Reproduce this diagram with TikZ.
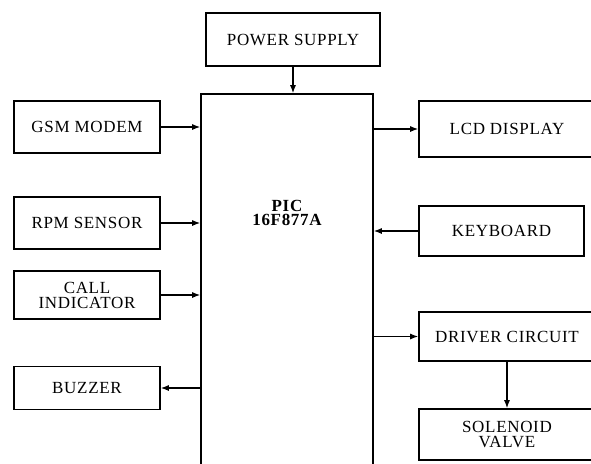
\documentclass[tikz,border=0pt]{standalone}
\usepackage{fontspec}
\setmainfont{Liberation Serif}[LetterSpace=4]
\usepackage{tikz}
\usetikzlibrary{arrows.meta, positioning}

\begin{document}
\begin{tikzpicture}[
    x=0.5pt, y=-0.5pt,
    box/.style={rectangle, draw=black, line width=0.8pt, fill=white,
                align=center, inner sep=0pt,
                font=\fontsize{8.5}{7.5}\selectfont},
    arrow/.style={-{Latex[length=4pt,width=3pt]}, line width=0.6pt}
]
\fill[white] (0,0) rectangle (591,463);
\clip (0,0) rectangle (591,463);

\node[box, minimum width=87pt, minimum height=26.5pt] (power) at (293,39.5) {POWER SUPPLY};
\node[box, minimum width=86pt, minimum height=213pt] (pic) at (287,307) {};
\node[align=center, font=\fontsize{8.5}{7}\selectfont\bfseries] (pictext) at (287,213) {PIC\\16F877A};

\node[box, minimum width=73pt, minimum height=26pt] (gsm)    at (87,127)   {GSM MODEM};
\node[box, minimum width=73pt, minimum height=26pt] (rpm)    at (87,223)   {RPM SENSOR};
\node[box, minimum width=73pt, minimum height=24pt] (call)   at (87,295)   {CALL\\INDICATOR};
\node[box, minimum width=73pt, minimum height=21.5pt] (buzzer) at (87,388) {BUZZER};

\node[box, minimum width=88pt, minimum height=28pt] (lcd)      at (507,129)   {LCD DISPLAY};
\node[box, minimum width=82.5pt, minimum height=25pt] (keyboard) at (501.5,231) {KEYBOARD};
\node[box, minimum width=88pt, minimum height=24.5pt] (driver)   at (507,336.5) {DRIVER CIRCUIT};
\node[box, minimum width=88pt, minimum height=25.5pt] (solenoid) at (507,434.5) {SOLENOID\\VALVE};

% inputs and outputs of the controller
\draw[arrow] (power.south) -- (power.south |- pic.north);
\draw[arrow] (gsm.east) -- (gsm.east -| pic.west);
\draw[arrow] (rpm.east) -- (rpm.east -| pic.west);
\draw[arrow] (call.east) -- (call.east -| pic.west);
\draw[arrow] (buzzer.east -| pic.west) -- (buzzer.east);
\draw[arrow] (lcd.west -| pic.east) -- (lcd.west);
\draw[arrow] (keyboard.west) -- (keyboard.west -| pic.east);
\draw[arrow] (driver.west -| pic.east) -- (driver.west);
\draw[arrow] (driver.south) -- (solenoid.north);
\end{tikzpicture}
\end{document}
